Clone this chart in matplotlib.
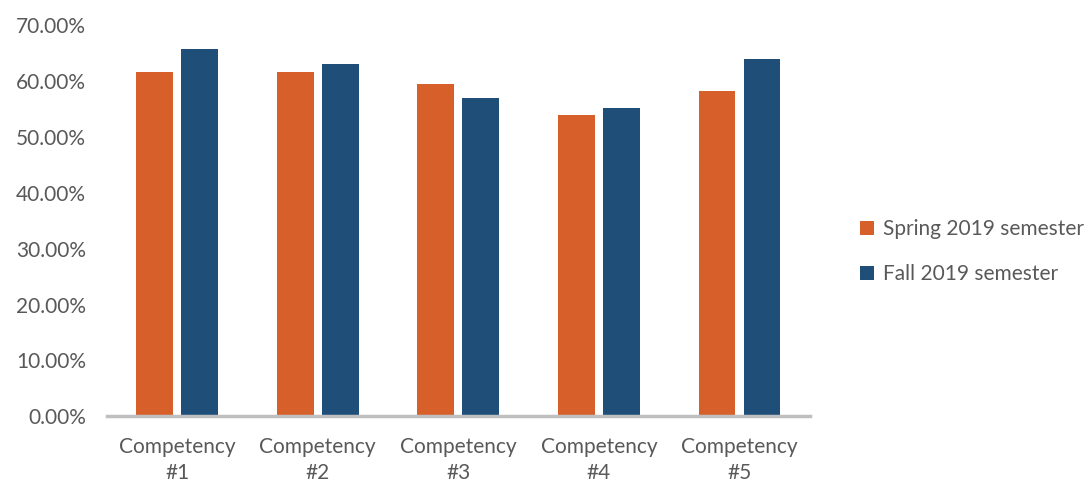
import matplotlib
matplotlib.use('Agg')
import matplotlib.pyplot as plt
import numpy as np

categories = ['Competency\n#1', 'Competency\n#2', 'Competency\n#3',
              'Competency\n#4', 'Competency\n#5']
spring_2019 = [61.7, 61.7, 59.5, 53.9, 58.3]
fall_2019 = [65.7, 63.0, 57.0, 55.2, 64.0]
series_names = ['Spring 2019 semester', 'Fall 2019 semester']

plt.rcParams['font.family'] = ['Lato', 'DejaVu Sans']
text_grey = '#595959'

fig = plt.figure(figsize=(10.9, 4.84), dpi=100)
ax = fig.add_axes([0.098, 0.14, 0.645, 0.808])

x = np.arange(len(categories))
w = 0.262
off = 0.16
ax.bar(x - off, spring_2019, w, color='#D65F2A', label=series_names[0])
ax.bar(x + off, fall_2019, w, color='#1F4E79', label=series_names[1])

ax.set_xlim(-0.5, len(categories) - 0.5)
ax.set_ylim(0, 70)
ax.set_yticks(np.arange(0, 71, 10))
ax.set_yticklabels([f'{v:.2f}%' for v in np.arange(0, 71, 10)])
ax.set_xticks(x)
ax.set_xticklabels(categories, linespacing=1.35)

for s in ['top', 'right', 'left']:
    ax.spines[s].set_visible(False)
ax.spines['bottom'].set_color('#BFBFBF')
ax.spines['bottom'].set_linewidth(2.5)
ax.tick_params(axis='both', length=0, labelsize=15, colors=text_grey)
ax.tick_params(axis='y', pad=15)
ax.tick_params(axis='x', pad=15)

leg = ax.legend(loc='center left', bbox_to_anchor=(1.045, 0.42), frameon=False,
                fontsize=15, handlelength=0.65, handleheight=0.65,
                handletextpad=0.45, labelspacing=1.2)
for t in leg.get_texts():
    t.set_color(text_grey)

fig.savefig('out.png', dpi=100)
